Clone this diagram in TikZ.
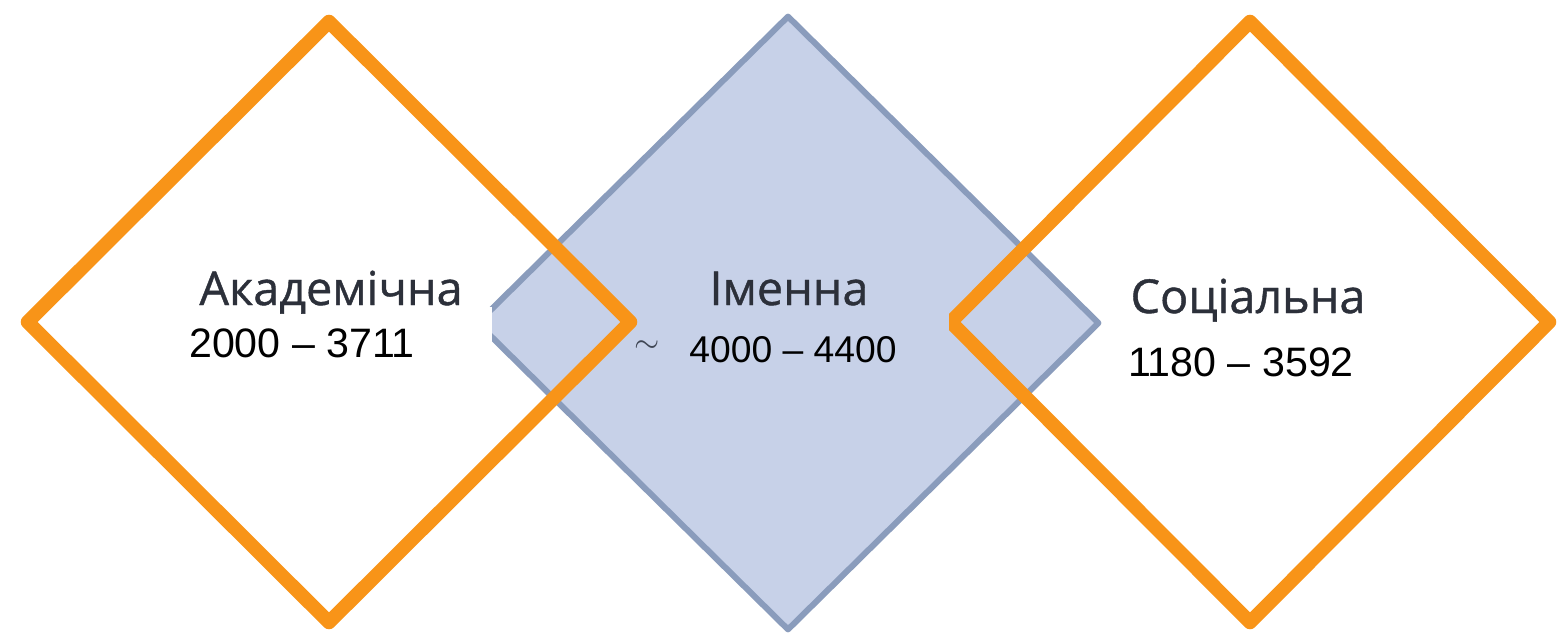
\documentclass[tikz,border=0pt]{standalone}
\usepackage{fontspec}
\setmainfont{Liberation Sans}
\newfontfamily\labelfont[FakeBold=0.9]{Open Sans}
\usetikzlibrary{shapes.geometric}

\definecolor{frameorange}{RGB}{248,148,24}
\definecolor{namefill}{RGB}{199,209,232}
\definecolor{nameline}{RGB}{138,156,188}
\definecolor{labelgray}{RGB}{44,48,58}

\begin{document}
\begin{tikzpicture}[x=0.01cm, y=-0.01cm,
		rhomb/.style={diamond, shape aspect=1, inner sep=0pt, line join=round},
		kind/.style={font=\labelfont\fontsize{13.3}{15}\selectfont, text=labelgray, anchor=base, inner sep=0pt},
		numtext/.style={font=\fontsize{11.7}{14}\selectfont, text=black, anchor=base, inner sep=0pt}]
	
	% --- frame of the page ---
	\useasboundingbox (0,0) rectangle (1563,639);
	
	% --- 1. the three diamonds ---
	\node[rhomb, draw=nameline, fill=namefill, line width=0.06cm,
		minimum width=6.23cm, minimum height=6.15cm] (nominal) at (788,323) {};
	\node[rhomb, draw=frameorange, line width=0.14cm,
		minimum width=6.08cm, minimum height=6.06cm] (academic) at (329,322) {};
	\node[rhomb, draw=frameorange, line width=0.14cm,
		minimum width=6.04cm, minimum height=6.06cm] (social) at (1250,322) {};
	
	% --- 2. backgrounds of the numbers ---
	\node[fill=white, minimum width=3.8cm, minimum height=0.76cm, inner sep=0pt] (acabox) at (302,345) {};
	\node[fill=namefill, minimum width=2.79cm, minimum height=0.67cm, inner sep=0pt] (nombox) at (809.5,346.5) {};
	\node[fill=white, minimum width=2.6cm, minimum height=0.6cm, inner sep=0pt] (socbox) at (1235,362) {};
	
	% --- 3. names ---
	\node[kind] (acaname) at (331,305) {Академічна};
	\node[kind] (nomname) at (789,305) {Іменна};
	\node[kind] (socname) at (1248,313) {Соціальна};
	
	% --- 4. ranges ---
	\node[numtext] (acanum) at (302,357) {2000 – 3711};
	\node[numtext, font=\fontsize{10.6}{13}\selectfont] (nomnum) at (793,362) {4000 – 4400};
	\node[text=labelgray!80!nameline, font=\small, inner sep=0pt] (tilde) at (647,347) {$\sim$};
	\node[numtext] (socnum) at (1241,376) {1180 – 3592};
	
\end{tikzpicture}
\end{document}
